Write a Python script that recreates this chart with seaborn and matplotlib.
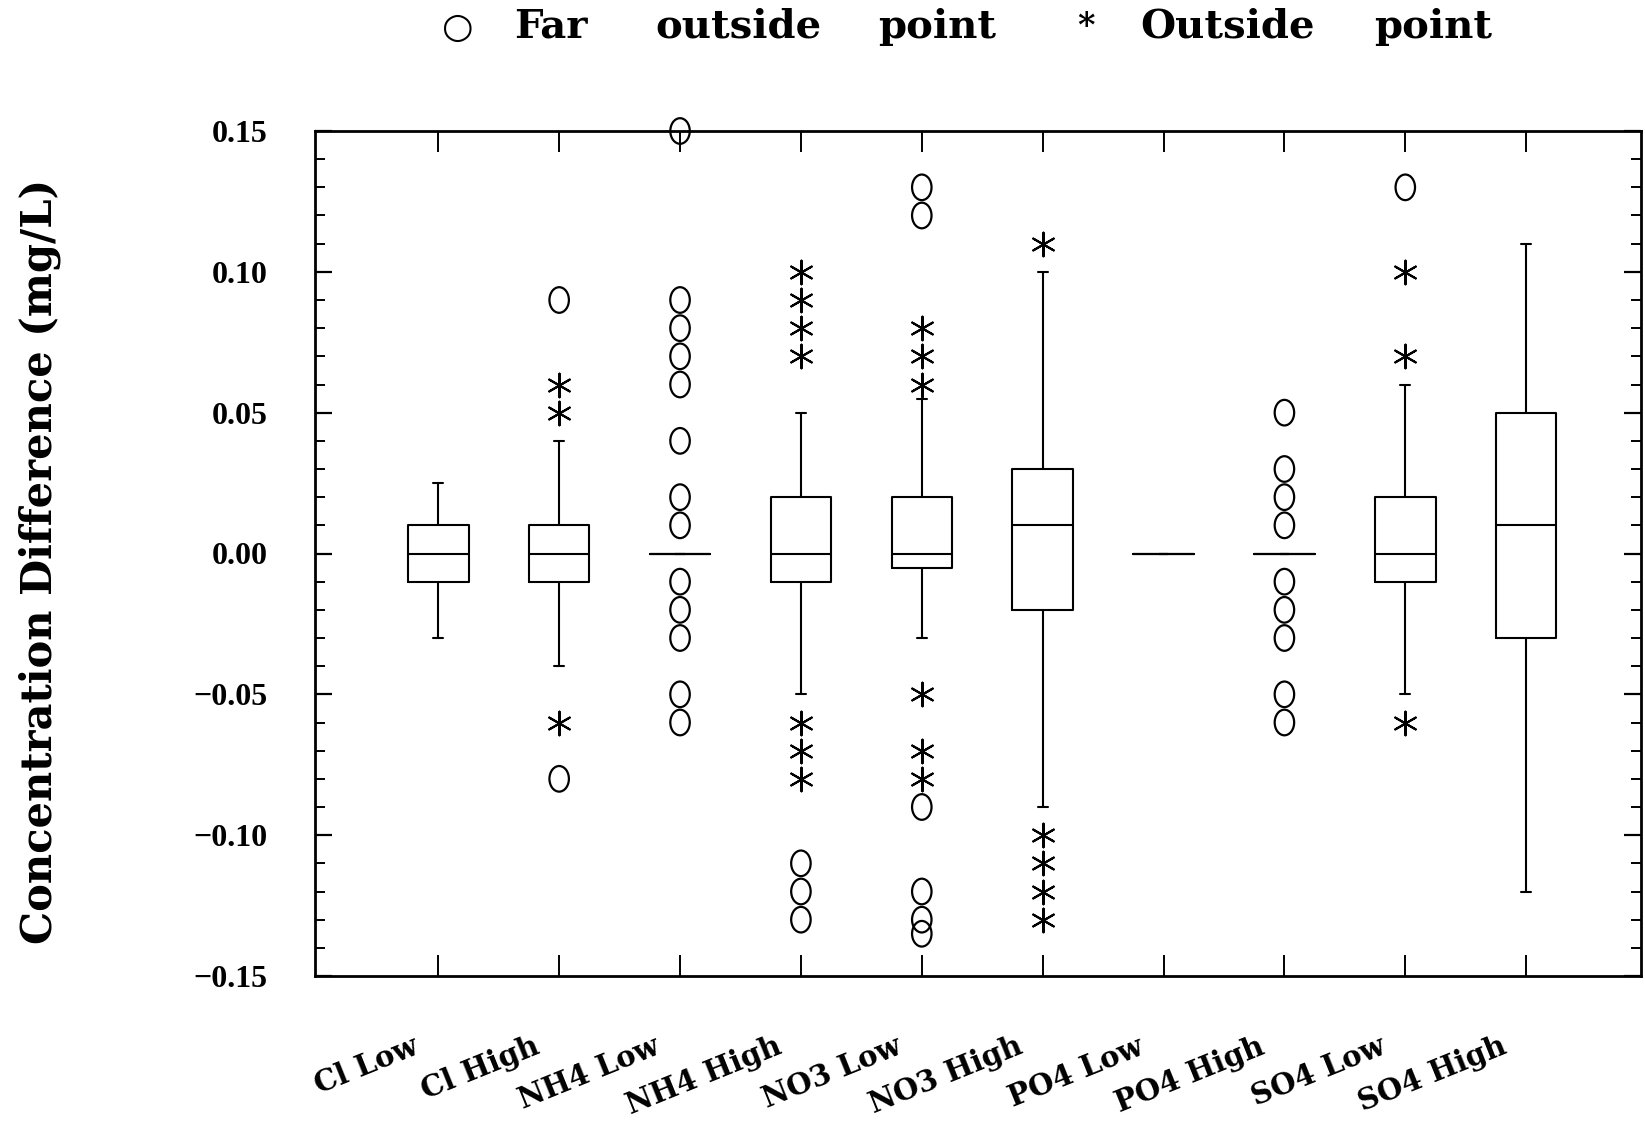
import numpy as np
import pandas as pd
import matplotlib
matplotlib.use('Agg')
import matplotlib.pyplot as plt
from matplotlib.path import Path
from matplotlib.ticker import MultipleLocator
import seaborn as sns

categories = ['Cl Low', 'Cl High', 'NH4 Low', 'NH4 High', 'NO3 Low',
              'NO3 High', 'PO4 Low', 'PO4 High', 'SO4 Low', 'SO4 High']

# five number summary
whisker_low = [-0.03, -0.04, 0.0, -0.05, -0.03, -0.09, 0.0, 0.0, -0.05, -0.12]
q1 = [-0.01, -0.01, 0.0, -0.01, -0.005, -0.02, 0.0, 0.0, -0.01, -0.03]
median = [0.0, 0.0, 0.0, 0.0, 0.0, 0.01, 0.0, 0.0, 0.0, 0.01]
q3 = [0.01, 0.01, 0.0, 0.02, 0.02, 0.03, 0.0, 0.0, 0.02, 0.05]
whisker_high = [0.025, 0.04, 0.0, 0.05, 0.055, 0.10, 0.0, 0.0, 0.06, 0.11]

# far outside points (circles), one list per category
far_outside = [
    [],
    [0.09, -0.08],
    [0.15, 0.09, 0.08, 0.07, 0.06, 0.04, 0.02, 0.01, -0.01, -0.02, -0.03, -0.05, -0.06],
    [-0.11, -0.12, -0.13],
    [0.13, 0.12, -0.09, -0.12, -0.13, -0.135],
    [],
    [],
    [0.05, 0.03, 0.02, 0.01, -0.01, -0.02, -0.03, -0.05, -0.06],
    [0.13],
    [],
]
# outside points (asterisks)
outside = [
    [],
    [0.06, 0.05, -0.06],
    [],
    [0.10, 0.09, 0.08, 0.07, -0.06, -0.07, -0.08],
    [0.08, 0.07, 0.06, -0.05, -0.07, -0.08],
    [0.11, -0.10, -0.11, -0.12, -0.13],
    [],
    [],
    [0.10, 0.07, -0.06],
    [],
]

yticks = [-0.15, -0.10, -0.05, 0.00, 0.05, 0.10, 0.15]

# long table: the five numbers per group give exact quartiles with whis=inf
rows = []
for i, cat in enumerate(categories):
    for v in [whisker_low[i], q1[i], median[i], q3[i], whisker_high[i]]:
        rows.append((cat, v))
box_df = pd.DataFrame(rows, columns=['group', 'value'])

far_df = pd.DataFrame([(i, v) for i, vals in enumerate(far_outside) for v in vals],
                      columns=['pos', 'value'])
out_df = pd.DataFrame([(i, v) for i, vals in enumerate(outside) for v in vals],
                      columns=['pos', 'value'])

sns.set_style('ticks')
plt.rcParams['font.family'] = ['Liberation Serif', 'DejaVu Serif']
for key in ['text.color', 'axes.labelcolor', 'xtick.color', 'ytick.color',
            'axes.edgecolor']:
    plt.rcParams[key] = 'black'

fig = plt.figure(figsize=(16.45, 11.27), dpi=100)
ax = fig.add_axes([315 / 1645, 1 - 976 / 1127, (1641 - 315) / 1645, (976 - 131) / 1127])

sns.boxplot(data=box_df, x='group', y='value', order=categories, whis=np.inf,
            width=0.5, fill=False, color='black', linewidth=1.5,
            capwidths=0.08, ax=ax)

circ = Path.unit_circle()
oval = Path(circ.vertices * np.array([0.76, 1.0]), circ.codes)
sns.scatterplot(data=far_df, x='pos', y='value', marker=oval, s=340,
                facecolor='none', edgecolor='black', linewidth=1.6,
                clip_on=False, zorder=5, ax=ax)
sns.scatterplot(data=out_df, x='pos', y='value', marker=(6, 2, 0), s=290,
                color='black', linewidth=1.5, clip_on=False, zorder=5, ax=ax)

ax.set_xlim(-1.02, 9.95)
ax.set_ylim(-0.15, 0.15)
ax.set_yticks(yticks)
ax.yaxis.set_minor_locator(MultipleLocator(0.01))
ax.set_yticklabels([f'{t:.2f}'.replace('-', '\u2212') for t in yticks],
                   fontsize=23, fontweight='bold')
ax.set_xticks(range(len(categories)))
ax.set_xticklabels([])
for i, cat in enumerate(categories):
    ax.text(i - 0.22, -0.066, cat, transform=ax.get_xaxis_transform(),
            rotation=22, ha='right', va='top', rotation_mode='anchor',
            fontsize=21, fontweight='bold', family='DejaVu Serif')

ax.tick_params(axis='x', which='both', direction='in', top=True, bottom=True,
               length=15, width=1.4)
ax.tick_params(axis='y', which='major', direction='in', left=True, right=True,
               length=12, width=1.6, pad=34)
ax.tick_params(axis='y', which='minor', direction='in', left=True, right=True,
               length=7, width=1.4)
for sp in ax.spines.values():
    sp.set_visible(True)
    sp.set_linewidth(2)
ax.set_xlabel('')
ax.set_ylabel('')

fig.text(40 / 1645, 1 - 561 / 1127, 'Concentration Difference (mg/L)',
         rotation=90, ha='center', va='center', fontsize=30,
         fontweight='bold', family='DejaVu Serif')

# legend line across the top
base_y = 1 - 38 / 1127
fig.text(458 / 1645, base_y, '\u25cb', ha='center', va='baseline', fontsize=26,
         family='DejaVu Sans')
fig.text(1086 / 1645, 1 - 36 / 1127, '*', ha='center', va='baseline', fontsize=24,
         fontweight='bold', family='DejaVu Serif')
for word, cx in [('Far', 551), ('outside', 738), ('point', 937),
                 ('Outside', 1227), ('point', 1433)]:
    fig.text(cx / 1645, base_y, word, ha='center', va='baseline', fontsize=29,
             fontweight='bold', family='DejaVu Serif')

fig.savefig('out.png', dpi=100)
